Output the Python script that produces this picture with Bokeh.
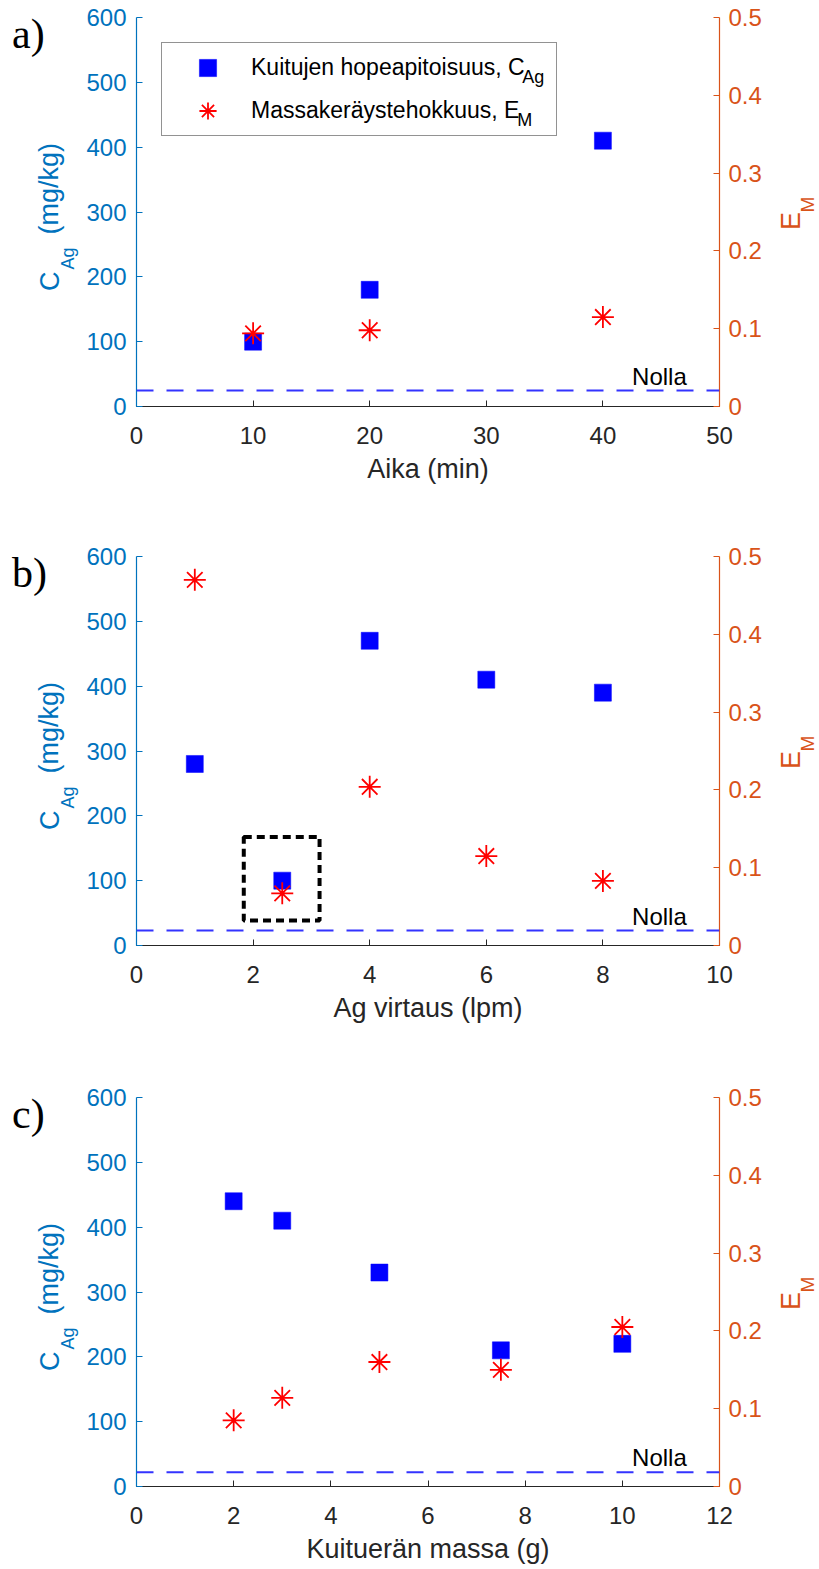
from math import pi

from bokeh.core.properties import value
from bokeh.embed import file_html
from bokeh.layouts import column, row
from bokeh.models import FixedTicker, Legend, LegendItem, LinearAxis, Range1d, Span
from bokeh.plotting import figure
from bokeh.resources import INLINE

# (a) collection time series
time_min = [10, 20, 40]
cag_time = [100, 180, 410]
em_time = [0.094, 0.098, 0.115]

# (b) silver flow series
flow_lpm = [1, 2.5, 4, 6, 8]
cag_flow = [280, 100, 470, 410, 390]
em_flow = [0.47, 0.067, 0.204, 0.115, 0.083]

# (c) fibre batch mass series
mass_g = [2, 3, 5, 7.5, 10]
cag_mass = [440, 410, 330, 210, 220]
em_mass = [0.085, 0.114, 0.16, 0.15, 0.205]

# blank ("Nolla") level per panel, in mg/kg
nolla_levels = [24.5, 23, 22]

# highlighted point in panel b (x in lpm, y in mg/kg)
box_x = [1.84, 3.14]
box_y = [38.5, 167.5]

x_max = [50, 10, 12]
x_step = [10, 2, 2]
x_titles = ["Aika (min)", "Ag virtaus (lpm)", "Kuituerän massa (g)"]
panel_tags = ["a)", "b)", "c)"]
cag_ticks = [0, 100, 200, 300, 400, 500, 600]
em_ticks = [0, 0.1, 0.2, 0.3, 0.4, 0.5]

SANS = "Liberation Sans"
SERIF = "Liberation Serif"
BLUE = "#0072BD"
ORANGE = "#D95319"
DARK = "#262626"

FRAME_W, FRAME_H = 583, 389
TOP = 17                   # space above each frame
LEFT_W, RIGHT_W = 80, 50   # side strips holding the axis titles
MAIN_LEFT, MAIN_RIGHT = 56, 50


def strip(width, border_bottom):
    """A bare figure whose frame lines up with the panel frame; its data
    units are pixels measured from the frame's bottom-left corner."""
    s = figure(width=width, height=TOP + FRAME_H + border_bottom,
               x_range=Range1d(0, width), y_range=Range1d(0, FRAME_H),
               min_border_left=0, min_border_right=0, min_border_top=TOP,
               min_border_bottom=border_bottom, output_backend="svg",
               toolbar_location=None, x_axis_location=None,
               y_axis_location=None)
    s.outline_line_color = None
    s.xgrid.visible = False
    s.ygrid.visible = False
    return s


def put_text(p, x, y, txt, font, size, color, angle=0.0,
             align="left", baseline="alphabetic"):
    p.text(x=[x], y=[y], text=[txt], angle=angle, text_font=value(font),
           text_font_size=value(size), text_color=color,
           text_align=align, text_baseline=baseline)


def side_text(p, x, y, txt, size, color):
    # rotated title piece, anchored at its centre
    put_text(p, x, y, txt, SANS, size, color, pi / 2, "center", "middle")


def make_panel(idx, xs, cag, em, border_bottom, with_legend=False):
    xmax = x_max[idx]
    p = figure(frame_width=FRAME_W, frame_height=FRAME_H,
               min_border_left=MAIN_LEFT, min_border_right=MAIN_RIGHT,
               min_border_top=TOP, min_border_bottom=border_bottom,
               x_range=Range1d(0, xmax), y_range=Range1d(0, 600),
               output_backend="svg", toolbar_location=None,
               x_axis_location=None, y_axis_location=None)
    p.extra_y_ranges = {"em": Range1d(0, 0.5)}
    p.outline_line_color = None
    p.xgrid.visible = False
    p.ygrid.visible = False

    xt = list(range(0, xmax + 1, x_step[idx]))
    xax = LinearAxis(ticker=FixedTicker(ticks=xt), axis_label=x_titles[idx])
    yl = LinearAxis(ticker=FixedTicker(ticks=cag_ticks))
    yr = LinearAxis(ticker=FixedTicker(ticks=em_ticks), y_range_name="em",
                    major_label_overrides={0: "0"})
    for ax, col in ((xax, DARK), (yl, BLUE), (yr, ORANGE)):
        ax.axis_line_color = col
        ax.axis_line_width = 1.2
        ax.major_tick_line_color = col
        ax.major_tick_in = 6
        ax.major_tick_out = 0
        ax.minor_tick_line_color = None
        ax.major_label_text_color = col
        ax.major_label_text_font = SANS
        ax.major_label_text_font_size = "24px"
    xax.major_label_standoff = 20
    xax.axis_label_text_font = SANS
    xax.axis_label_text_font_size = "27px"
    xax.axis_label_text_font_style = "normal"
    xax.axis_label_text_color = DARK
    xax.axis_label_standoff = 7
    yl.major_label_standoff = 10
    yr.major_label_standoff = 9
    p.add_layout(xax, "below")
    p.add_layout(yl, "left")
    p.add_layout(yr, "right")

    # pixel -> data helpers for this frame
    def dx(px):
        return px / FRAME_W * xmax

    def dy(px):
        return px / FRAME_H * 600

    # blank level
    p.add_layout(Span(location=nolla_levels[idx], dimension="width",
                      line_color="#3333ff", line_width=2, line_dash="17 13"))
    put_text(p, 0.85 * xmax, nolla_levels[idx] + dy(14.5), "Nolla", SANS,
             "24px", "black")

    sq = p.scatter(xs, cag, marker="square", size=17, fill_color="#0000FF",
                   line_color="#0000FF", line_width=0.5)
    st = p.scatter(xs, em, marker="asterisk", size=22, line_color="#FF0000",
                   line_width=1.8, y_range_name="em")

    if with_legend:
        legend = Legend(items=[
            LegendItem(label="Kuitujen hopeapitoisuus, C", renderers=[sq]),
            LegendItem(label="Massakeräystehokkuus, E", renderers=[st]),
        ], location="top_left", margin=25, padding=3, spacing=0,
            glyph_width=85, glyph_height=43, label_standoff=1, label_width=302,
            label_text_font=SANS, label_text_font_size="23px",
            label_text_color="black", border_line_color=DARK,
            border_line_width=1.2, background_fill_alpha=0)
        p.add_layout(legend)
        put_text(p, dx(385.7), dy(330), "Ag", SANS, "18px", "black")
        put_text(p, dx(380.7), dy(286.7), "M", SANS, "18px", "black")

    # left strip: panel tag and C_Ag (mg/kg)
    ls = strip(LEFT_W, border_bottom)
    put_text(ls, 11.5, 373, panel_tags[idx], SERIF, "42px", "black")
    side_text(ls, 49, 125.2, "C", "27px", BLUE)
    side_text(ls, 67.2, 148, "Ag", "18px", BLUE)
    side_text(ls, 48.5, 217.7, "(mg/kg)", "27px", BLUE)

    # right strip: E_M
    rs = strip(RIGHT_W, border_bottom)
    side_text(rs, 21.5, 185.5, "E", "27px", ORANGE)
    side_text(rs, 38.4, 202, "M", "19px", ORANGE)

    return p, row(ls, p, rs, spacing=0)


pa, ra = make_panel(0, time_min, cag_time, em_time, 133, with_legend=True)
pb, rb = make_panel(1, flow_lpm, cag_flow, em_flow, 135)
pb.quad(left=box_x[0], right=box_x[1], bottom=box_y[0], top=box_y[1],
        fill_color=None, line_color="black", line_width=4, line_dash="8 5")
pc, rc = make_panel(2, mass_g, cag_mass, em_mass, 83)

layout = column(ra, rb, rc, spacing=0)
open("out.html", "w").write(file_html(layout, INLINE))
